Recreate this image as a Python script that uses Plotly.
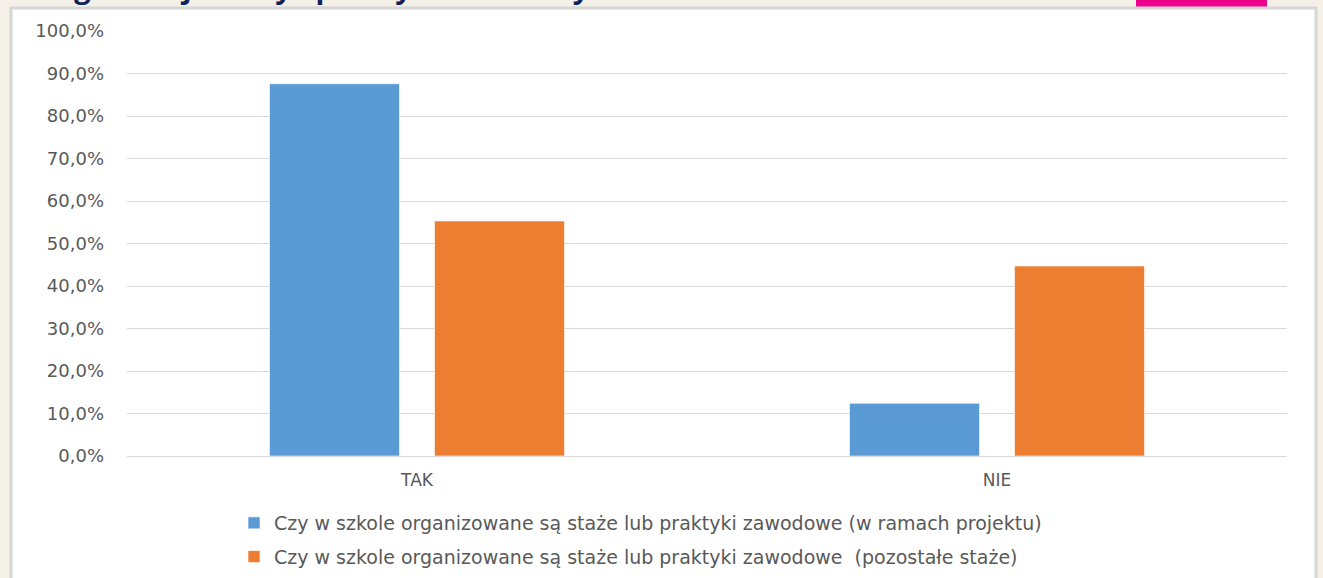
import plotly.graph_objects as go

categories = ["TAK", "NIE"]
series_names = [
    "Czy w szkole organizowane są staże lub praktyki zawodowe (w ramach projektu)",
    "Czy w szkole organizowane są staże lub praktyki zawodowe \u00a0(pozostałe staże)",
]
series_projekt = [87.6, 12.4]
series_pozostale = [55.3, 44.7]
series_colors = ["#5b9bd5", "#ed7d31"]
tick_values = [0, 10, 20, 30, 40, 50, 60, 70, 80, 90, 100]
tick_labels = ["0,0%", "10,0%", "20,0%", "30,0%", "40,0%", "50,0%",
               "60,0%", "70,0%", "80,0%", "90,0%", "100,0%"]
title_text = "Organizacja staży i praktyk zawodowych"

W, H = 1323, 578
L, R, T, B = 127, 1287, 31, 456  # plot area in pixels


def px(x):
    return (x - L) / (R - L)


def py(y):
    return (B - y) / (B - T)


fig = go.Figure()
for name, vals, col in zip(series_names, [series_projekt, series_pozostale], series_colors):
    fig.add_trace(go.Bar(
        x=categories, y=vals, name=name, legendgroup=name,
        marker=dict(color=col, line=dict(color="rgba(255,255,255,0.6)", width=1)),
    ))

font_family = "DejaVu Sans, Open Sans, sans-serif"

fig.update_layout(
    width=W, height=H,
    margin=dict(l=L, r=W - R, t=T, b=H - B, autoexpand=False),
    paper_bgcolor="#f4f0e7",
    plot_bgcolor="rgba(0,0,0,0)",
    barmode="group",
    bargap=0.431,
    bargroupgap=0.212,
    showlegend=True,
    legend=dict(
        orientation="v", x=px(234), xanchor="left", y=py(504), yanchor="top",
        font=dict(family=font_family, size=19, color="#595959"),
        tracegroupgap=6, bgcolor="rgba(0,0,0,0)",
        itemclick=False,
    ),
    font=dict(family=font_family, color="#595959"),
    xaxis=dict(
        showgrid=False, showline=False, zeroline=False,
        tickfont=dict(size=17, color="#595959"),
        ticks="", ticklabelstandoff=12,
    ),
    yaxis=dict(
        range=[0, 100], tickvals=tick_values, ticktext=tick_labels,
        showgrid=True, gridcolor="#d9d9d9", gridwidth=1,
        zeroline=True, zerolinecolor="#d9d9d9", zerolinewidth=1,
        showline=False, ticks="", ticklabelstandoff=22,
        tickfont=dict(size=18, color="#595959"),
    ),
    shapes=[
        dict(type="rect", xref="paper", yref="paper", layer="below",
             x0=px(11), x1=px(1316), y0=py(600), y1=py(8),
             fillcolor="white", line=dict(color="#d6d6d6", width=3)),
        dict(type="rect", xref="paper", yref="paper", layer="below",
             x0=px(1136), x1=px(1267), y0=py(6.5), y1=py(-5),
             fillcolor="#ec008c", line=dict(width=0)),
    ],
    annotations=[
        dict(text="<b>" + title_text + "</b>", xref="paper", yref="paper",
             x=px(36), y=py(8), xanchor="left", yanchor="bottom",
             showarrow=False, font=dict(family="Open Sans, sans-serif", size=29, color="#0f2260")),
    ],
)

fig.write_html("out.html", config={"displayModeBar": False},
               post_script="document.body.style.margin='0px';")
